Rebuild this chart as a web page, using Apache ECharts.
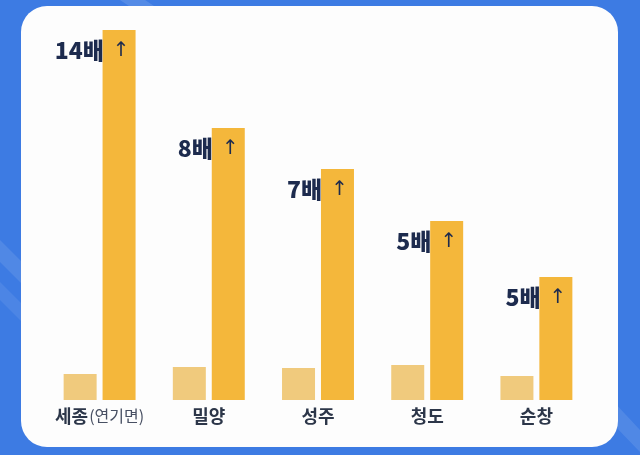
<!DOCTYPE html>
<html>
<head>
<meta charset="utf-8">
<script src="https://cdn.jsdelivr.net/npm/echarts@6/dist/echarts.min.js"></script>
<style>
html,body{margin:0;padding:0;background:#3d7be3;}
#c{width:640px;height:455px;}
</style>
</head>
<body>
<div id="c"></div>
<script>
const categories = ['세종(연기면)', '밀양', '성주', '청도', '순창'];
const beforeValues = [26, 33, 32, 35, 24];
const afterValues = [370, 272, 231, 179, 123];
const multLabels = ['14배', '8배', '7배', '5배', '5배'];

const chart = echarts.init(document.getElementById('c'));
const font = '"Noto Sans CJK KR", "Noto Sans", sans-serif';

chart.setOption({
  backgroundColor: '#3d7be3',
  animation: false,
  graphic: [
    { type: 'polygon', silent: true, z: -10,
      shape: { points: [[0, 240], [0, 262], [40, 302], [40, 280]] },
      style: { fill: 'rgba(255,255,255,0.10)' } },
    { type: 'polygon', silent: true, z: -10,
      shape: { points: [[0, 282], [0, 300], [40, 340], [40, 322]] },
      style: { fill: 'rgba(255,255,255,0.08)' } },
    { type: 'polygon', silent: true, z: -10,
      shape: { points: [[590, 400], [612, 400], [640, 430], [640, 452]] },
      style: { fill: 'rgba(255,255,255,0.10)' } },
    { type: 'polygon', silent: true, z: -10,
      shape: { points: [[120, 0], [145, 0], [160, 10], [135, 10]] },
      style: { fill: 'rgba(255,255,255,0.12)' } },
    { type: 'rect', silent: true, z: -5,
      shape: { x: 21, y: 6, width: 597, height: 441, r: 26 },
      style: { fill: '#fdfdfd' } }
  ],
  grid: { left: 45, right: 49, top: 30, bottom: 55, containLabel: false },
  xAxis: {
    type: 'category',
    data: categories,
    axisLine: { show: false },
    axisTick: { show: false },
    axisLabel: {
      margin: 7,
      interval: 0,
      formatter: function (v) {
        const i = v.indexOf('(');
        if (i >= 0) return '{b|' + v.slice(0, i) + '}{s|' + v.slice(i) + '}';
        return '{b|' + v + '}';
      },
      rich: {
        b: { fontFamily: font, fontSize: 18, fontWeight: 'bold', color: '#2c3649' },
        s: { fontFamily: font, fontSize: 16, fontWeight: 'normal', color: '#485063', padding: [0, 0, 0, 1] }
      }
    }
  },
  yAxis: {
    type: 'value',
    min: 0,
    max: 370,
    show: false,
    splitLine: { show: false }
  },
  series: [
    {
      type: 'bar',
      data: beforeValues,
      barWidth: 33,
      barGap: '18%',
      itemStyle: { color: '#f0ca7d' }
    },
    {
      type: 'bar',
      data: afterValues,
      barWidth: 33,
      itemStyle: { color: '#f4b73b' },
      label: {
        show: true,
        position: 'insideTopRight',
        distance: 5,
        offset: [-1, 4],
        formatter: function (p) { return '{m|' + multLabels[p.dataIndex] + '}{a|↑}'; },
        rich: {
          m: { fontFamily: font, fontSize: 23, fontWeight: 900, color: '#1d2b4e' },
          a: { fontFamily: '"DejaVu Sans", sans-serif', fontSize: 20, fontWeight: 'normal', color: '#1d2b4e', padding: [0, 0, 0, 9] }
        }
      }
    }
  ]
});
</script>
</body>
</html>
